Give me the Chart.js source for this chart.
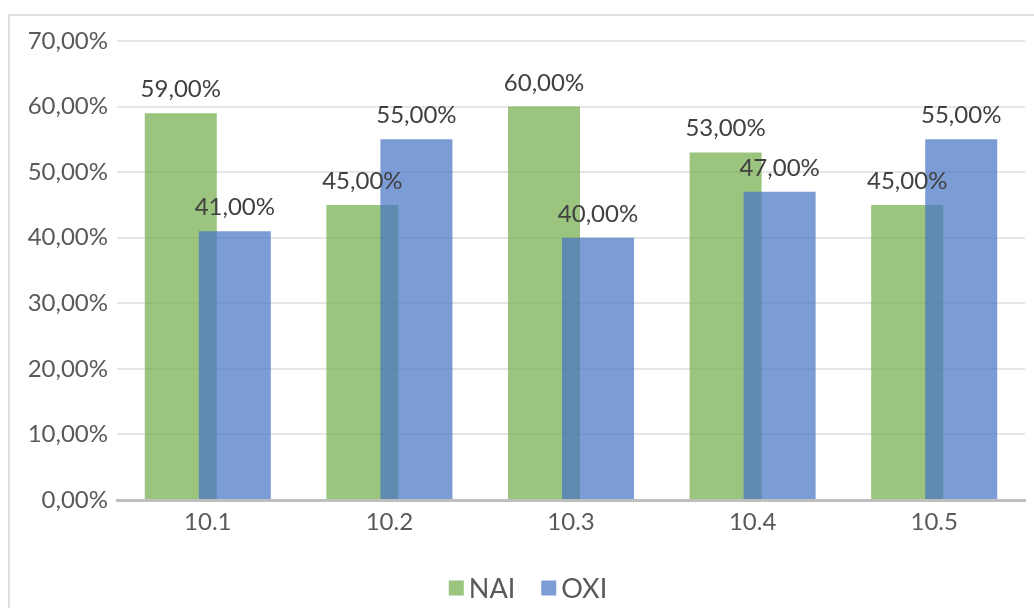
<!DOCTYPE html>
<html><head><meta charset="utf-8">
<script src="https://cdn.jsdelivr.net/npm/chart.js@4.4.0/dist/chart.umd.min.js"></script>
<style>html,body{margin:0;padding:0;background:#fff;overflow:hidden}#wrap{width:1034px;height:608px;position:relative}</style>
</head><body><div id="wrap"><canvas id="c" width="1034" height="608"></canvas></div>
<script>
const categories = ['10.1', '10.2', '10.3', '10.4', '10.5'];
const seriesNames = ['NAI', 'OXI'];
const naiValues = [59, 45, 60, 53, 45];
const oxiValues = [41, 55, 40, 47, 55];
const yMin = 0, yMax = 70, yStep = 10;

const FONT = 'Lato';
const fmt = v => v.toFixed(2).replace('.', ',') + '%';

const frame = {
  id: 'frame',
  beforeDraw(chart) {
    const ctx = chart.ctx;
    ctx.save();
    ctx.fillStyle = '#fff';
    ctx.fillRect(0, 0, chart.width, chart.height);
    ctx.strokeStyle = '#e0e0e0';
    ctx.lineWidth = 2;
    ctx.strokeRect(9, 15, 1100, 700);
    ctx.restore();
  }
};

const drawOrder = {
  id: 'drawOrder',
  beforeDatasetsDraw(chart) {
    const metas = chart.getSortedVisibleDatasetMetas();
    const ctx = chart.ctx;
    metas.forEach(m => m.controller.draw());
    ctx.save();
    ctx.font = '24px ' + FONT;
    ctx.fillStyle = '#404040';
    ctx.textAlign = 'center';
    ctx.textBaseline = 'alphabetic';
    metas.forEach(m => {
      const ds = chart.data.datasets[m.index];
      m.data.forEach((el, i) => {
        ctx.fillText(fmt(ds.data[i]), el.x, el.y - 16);
      });
    });
    ctx.restore();
    return false;
  }
};

const legendPlugin = {
  id: 'customLegend',
  afterDraw(chart) {
    const ctx = chart.ctx;
    const ds = chart.data.datasets;
    ctx.save();
    ctx.font = '27px ' + FONT;
    const box = 15, gapText = 5, gapItem = 26;
    const widths = ds.map(d => ctx.measureText(d.label).width);
    let total = 0;
    widths.forEach((w, i) => { total += box + gapText + w + (i < widths.length - 1 ? gapItem : 0); });
    let x = 528 - total / 2;
    const cy = 588;
    ds.forEach((d, i) => {
      ctx.fillStyle = d.backgroundColor;
      ctx.fillRect(x, cy - box / 2, box, box);
      x += box + gapText;
      ctx.fillStyle = '#595959';
      ctx.textBaseline = 'middle';
      ctx.textAlign = 'left';
      ctx.fillText(d.label, x, cy + 1);
      x += widths[i] + gapItem;
    });
    ctx.restore();
  }
};

new Chart(document.getElementById('c'), {
  type: 'bar',
  data: {
    labels: categories,
    datasets: [
      { label: seriesNames[0], data: naiValues, backgroundColor: 'rgba(112,173,71,0.7)', borderWidth: 0 },
      { label: seriesNames[1], data: oxiValues, backgroundColor: 'rgba(68,114,196,0.7)', borderWidth: 0 }
    ]
  },
  options: {
    responsive: false,
    animation: false,
    devicePixelRatio: 1,
    categoryPercentage: 0.595,
    barPercentage: 1.333,
    layout: { padding: { left: 0, right: 9, top: 41, bottom: 42 } },
    plugins: {
      legend: { display: false },
      tooltip: { enabled: false }
    },
    scales: {
      x: {
        grid: { display: false },
        border: { color: '#bfbfbf', width: 3 },
        ticks: { font: { family: FONT, size: 24 }, color: '#595959', padding: 0 },
        afterFit(s) { s.height = 66; }
      },
      y: {
        min: yMin, max: yMax,
        ticks: { stepSize: yStep, callback: v => fmt(v), font: { family: FONT, size: 24 }, color: '#595959', padding: 9 },
        grid: { color: '#e6e6e6', lineWidth: 2, drawTicks: false },
        border: { display: false },
        afterFit(s) { s.width = 117; }
      }
    }
  },
  plugins: [frame, drawOrder, legendPlugin]
});
</script>
</body></html>
